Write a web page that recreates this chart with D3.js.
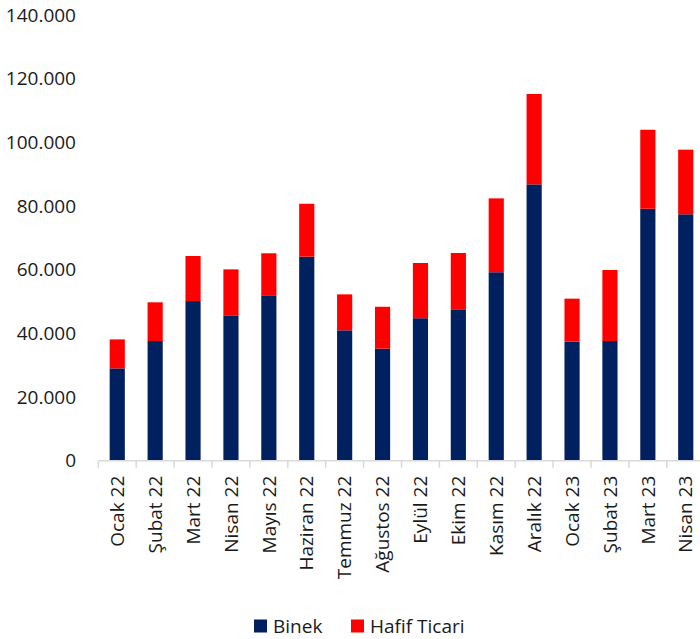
<!DOCTYPE html>
<html>
<head>
  <meta charset="utf-8">
  <script src="https://d3js.org/d3.v7.min.js"></script>
  <style>
    body { margin: 0; background: #fff; }
    text { font-family: "Open Sans", sans-serif; fill: #1a1a1a; }
  </style>
</head>
<body>
<div id="vis"></div>
<script>
  var months = ['Ocak 22', 'Şubat 22', 'Mart 22', 'Nisan 22', 'Mayıs 22', 'Haziran 22', 'Temmuz 22', 'Ağustos 22',
    'Eylül 22', 'Ekim 22', 'Kasım 22', 'Aralık 22', 'Ocak 23', 'Şubat 23', 'Mart 23', 'Nisan 23'];
  var binek = [29000, 37600, 50150, 45650, 51950, 64100, 40950, 35200,
    44750, 47550, 59200, 86800, 37400, 37600, 79150, 77400];
  var hafifTicari = [9100, 12150, 14150, 14450, 13200, 16600, 11300, 13150,
    17350, 17700, 23200, 28400, 13500, 22300, 24800, 20300];
  var yTicks = [0, 20000, 40000, 60000, 80000, 100000, 120000, 140000];
  var seriesNames = ['Binek', 'Hafif Ticari'];
  var colors = ['#002060', '#ff0000'];

  var width = 700, height = 639;
  var x0 = 98.3, x1 = 704.7, yBase = 460.7, yTop = 15;

  var svg = d3.select('#vis').append('svg')
    .attr('width', width)
    .attr('height', height);

  var x = d3.scaleBand().domain(months).range([x0, x1]).paddingInner(0.6).paddingOuter(0.3);
  var y = d3.scaleLinear().domain([0, 140000]).range([yBase, yTop]);

  var fmt = function (d) { return d === 0 ? '0' : d3.format(',')(d).replace(/,/g, '.'); };

  // y labels
  svg.append('g').selectAll('text')
    .data(yTicks).enter()
    .append('text')
    .attr('x', 76)
    .attr('y', d => y(d))
    .attr('dy', '0.35em')
    .attr('text-anchor', 'end')
    .style('font-size', '19px')
    .text(fmt);

  var rows = months.map((m, i) => ({ month: m, 'Binek': binek[i], 'Hafif Ticari': hafifTicari[i] }));
  var stacked = d3.stack().keys(seriesNames)(rows);

  svg.append('g').selectAll('g')
    .data(stacked).enter()
    .append('g')
    .attr('fill', (d, i) => colors[i])
    .selectAll('rect')
    .data(d => d).enter()
    .append('rect')
    .attr('x', d => x(d.data.month))
    .attr('width', x.bandwidth())
    .attr('y', d => y(d[1]))
    .attr('height', d => y(d[0]) - y(d[1]));

  // x axis
  var xAxis = svg.append('g');
  xAxis.append('line')
    .attr('x1', x0).attr('x2', x1)
    .attr('y1', yBase).attr('y2', yBase)
    .attr('stroke', '#d9d9d9').attr('stroke-width', 1.5);
  var step = x.step();
  xAxis.selectAll('.tk')
    .data(d3.range(months.length + 1)).enter()
    .append('line')
    .attr('x1', i => x0 + i * step).attr('x2', i => x0 + i * step)
    .attr('y1', yBase).attr('y2', yBase + 7)
    .attr('stroke', '#d9d9d9').attr('stroke-width', 1.5);

  xAxis.selectAll('.lbl')
    .data(months).enter()
    .append('text')
    .attr('transform', d => 'translate(' + (x(d) + x.bandwidth() / 2) + ',' + (yBase + 15) + ') rotate(-90)')
    .attr('text-anchor', 'end')
    .attr('dy', '0.35em')
    .style('font-size', '19px')
    .text(d => d);

  // legend
  var legend = svg.append('g');
  var items = [{ name: 'Binek', x: 254, c: colors[0] }, { name: 'Hafif Ticari', x: 351, c: colors[1] }];
  items.forEach(function (it) {
    legend.append('rect')
      .attr('x', it.x).attr('y', 619.5)
      .attr('width', 13).attr('height', 13)
      .attr('fill', it.c);
    legend.append('text')
      .attr('x', it.x + 19).attr('y', 626)
      .attr('dy', '0.35em')
      .style('font-size', '19px')
      .text(it.name);
  });
</script>
</body>
</html>
